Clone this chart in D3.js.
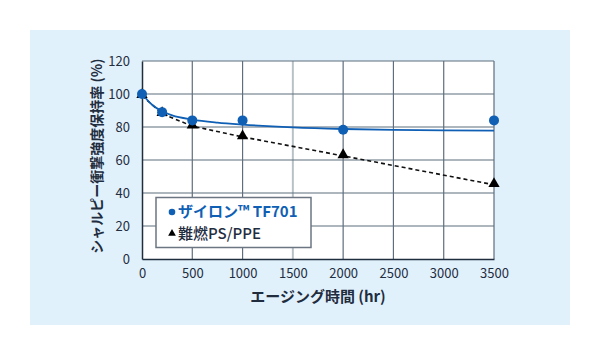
<!DOCTYPE html>
<html><head><meta charset="utf-8">
<script src="https://cdn.jsdelivr.net/npm/d3@7/dist/d3.min.js"></script>
<style>
html,body{margin:0;padding:0;background:#fff;}
svg{display:block;font-family:"Noto Sans CJK JP","Noto Sans",sans-serif;}
</style></head>
<body><svg id="c" width="600" height="356"></svg>
<script>
// Data
const hours = [0, 200, 500, 1000, 2000, 3500];
const zylonPts = [100, 89, 84, 84, 78.3, 84];
const psppePts = [99, 88, 80.5, 74, 62.5, 45];
const zylonFitHours = [0, 100, 200, 300, 500, 750, 1000, 1500, 2000, 2500, 3000, 3500];
const zylonFitVals = [100, 93.5, 89.5, 87, 84.5, 82.7, 81.5, 79.8, 78.8, 78.2, 77.9, 77.8];
const xTicks = [0, 500, 1000, 1500, 2000, 2500, 3000, 3500];
const yTicks = [0, 20, 40, 60, 80, 100, 120];
const seriesNames = ["ザイロン™ TF701", "難燃PS/PPE"];
const xTitle = "エージング時間 (hr)";
const yTitle = "シャルピー衝撃強度保持率 (%)";

const svg = d3.select("#c");
const blue = "#0f5fb5", dark = "#1f2d3f", grid = "#5f6e7d";

svg.append("rect").attr("x",30).attr("y",30).attr("width",540).attr("height",295).attr("fill","#e1f1fc");

const x = d3.scaleLinear().domain([0,3500]).range([142,494]);
const y = d3.scaleLinear().domain([0,120]).range([259,61]);

svg.append("rect").attr("x",x(0)).attr("y",y(120)).attr("width",x(3500)-x(0)).attr("height",y(0)-y(120)).attr("fill","#fff");

// grid
svg.append("g").selectAll("line").data(xTicks.slice(1)).join("line")
  .attr("x1",d=>x(d)).attr("x2",d=>x(d)).attr("y1",y(0)).attr("y2",y(120))
  .attr("stroke",d=>d===1500?"#b9c1c8":grid).attr("stroke-width",d=>d===1500?2:1.2);
svg.append("g").selectAll("line").data(yTicks.slice(1)).join("line")
  .attr("x1",x(0)).attr("x2",x(3500)).attr("y1",d=>y(d)).attr("y2",d=>y(d))
  .attr("stroke",grid).attr("stroke-width",1.2);

// axes
const xAxis = svg.append("g").attr("transform",`translate(0,${y(0)})`)
  .call(d3.axisBottom(x).tickValues(xTicks).tickFormat(d3.format("d")).tickSize(0).tickPadding(10));
const yAxis = svg.append("g").attr("transform",`translate(${x(0)},0)`)
  .call(d3.axisLeft(y).tickValues(yTicks).tickFormat(d3.format("d")).tickSize(0).tickPadding(12));
[xAxis,yAxis].forEach(a=>{
  a.select(".domain").attr("stroke",dark).attr("stroke-width",1.5);
  a.selectAll("text").attr("fill",dark).style("font-size","13px").style("font-family","'Noto Sans CJK JP','Noto Sans',sans-serif");
});

// PS/PPE dashed line
svg.append("path").datum(hours.map((h,i)=>[h,psppePts[i]]))
  .attr("d",d3.line().x(d=>x(d[0])).y(d=>y(d[1])))
  .attr("fill","none").attr("stroke","#111").attr("stroke-width",1.6).attr("stroke-dasharray","4,3");
// Zylon fit curve
svg.append("path").datum(zylonFitHours.map((h,i)=>[h,zylonFitVals[i]]))
  .attr("d",d3.line().curve(d3.curveMonotoneX).x(d=>x(d[0])).y(d=>y(d[1])))
  .attr("fill","none").attr("stroke",blue).attr("stroke-width",1.8);

// markers
const tri = d3.symbol().type(d3.symbolTriangle).size(55);
svg.append("g").selectAll("path").data(hours.map((h,i)=>[h,psppePts[i]])).join("path")
  .attr("d",tri).attr("transform",d=>`translate(${x(d[0])},${y(d[1])-1})`).attr("fill","#000");
svg.append("g").selectAll("circle").data(hours.map((h,i)=>[h,zylonPts[i]])).join("circle")
  .attr("cx",d=>x(d[0])).attr("cy",d=>y(d[1])).attr("r",5).attr("fill",blue);

// legend
const lg = svg.append("g");
lg.append("rect").attr("x",156).attr("y",197.5).attr("width",155).attr("height",50)
  .attr("fill","#fff").attr("stroke","#6b7682").attr("stroke-width",1.5);
lg.append("circle").attr("cx",172).attr("cy",212).attr("r",3.3).attr("fill",blue);
lg.append("text").attr("x",178).attr("y",217).attr("fill",blue).style("font-size","15px").style("font-weight","bold").text(seriesNames[0]);
lg.append("path").attr("d",d3.symbol().type(d3.symbolTriangle).size(26)).attr("transform","translate(172,233.5)").attr("fill","#000");
lg.append("text").attr("x",178).attr("y",239).attr("fill",dark).style("font-size","15px").style("font-weight","500").text(seriesNames[1]);

// titles
svg.append("text").attr("x",x(1750)).attr("y",302).attr("text-anchor","middle").attr("fill",dark)
  .style("font-size","15px").style("font-weight","bold").text(xTitle);
svg.append("text").attr("transform","translate(102,156) rotate(-90)").attr("text-anchor","middle").attr("fill",dark)
  .style("font-size","14px").style("font-weight","bold").text(yTitle);
</script></body></html>
